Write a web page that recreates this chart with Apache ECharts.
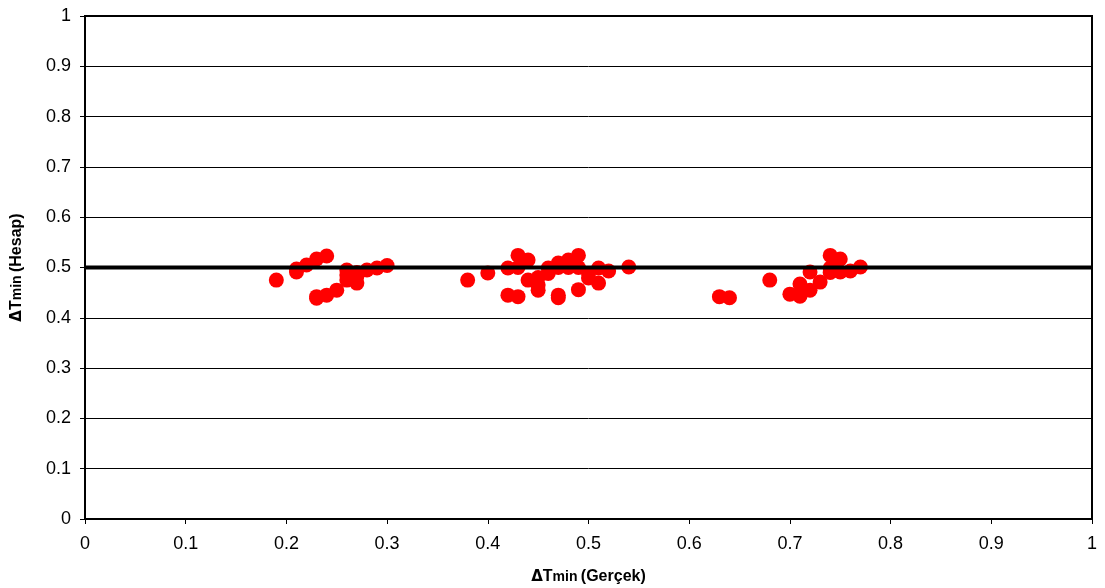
<!DOCTYPE html>
<html>
<head>
<meta charset="utf-8">
<script src="https://cdn.jsdelivr.net/npm/echarts@6/dist/echarts.min.js"></script>
<style>
  html, body { margin: 0; padding: 0; background: #fff; }
  #chart { width: 1105px; height: 588px; }
</style>
</head>
<body>
<div id="chart"></div>
<script>
// ΔTmin gerçek (x) ve hesap (y) değerleri
var gercek = [
  0.19, 0.21, 0.21, 0.22, 0.23, 0.23, 0.23, 0.24, 0.24, 0.25, 0.26, 0.26, 0.26,
  0.27, 0.27, 0.27, 0.28, 0.29, 0.30,
  0.38, 0.40, 0.42, 0.42, 0.43, 0.43, 0.43, 0.44, 0.44, 0.45, 0.45, 0.45, 0.46,
  0.46, 0.47, 0.47, 0.47, 0.47, 0.48, 0.48, 0.49, 0.49, 0.49, 0.50, 0.50, 0.51,
  0.51, 0.52, 0.54,
  0.63, 0.64, 0.68, 0.70, 0.71, 0.71, 0.72, 0.72, 0.73, 0.74, 0.74, 0.74, 0.75,
  0.75, 0.76, 0.77
];
var hesap = [
  0.475, 0.491, 0.497, 0.505, 0.517, 0.439, 0.442, 0.523, 0.445, 0.455, 0.495, 0.475, 0.485,
  0.482, 0.469, 0.490, 0.495, 0.499, 0.504,
  0.475, 0.489, 0.499, 0.445, 0.524, 0.442, 0.500, 0.515, 0.475, 0.455, 0.480, 0.465, 0.499,
  0.488, 0.509, 0.445, 0.440, 0.500, 0.515, 0.500, 0.524, 0.456, 0.500, 0.479, 0.488, 0.499,
  0.469, 0.493, 0.501,
  0.442, 0.440, 0.475, 0.447, 0.467, 0.443, 0.455, 0.491, 0.471, 0.524, 0.499, 0.490, 0.517,
  0.491, 0.493, 0.501
];
// y = 0.5 referans çizgisi
var refX = [0, 1];
var refY = [0.5, 0.5];

var points = gercek.map(function (x, i) { return [x, hesap[i]]; });
var refLine = refX.map(function (x, i) { return [x, refY[i]]; });

var titleRich = {
  d: { fontFamily: 'DejaVu Sans', fontWeight: 'bold', fontSize: 15, color: '#000' },
  t: { fontFamily: 'Liberation Sans', fontWeight: 'bold', fontSize: 16, color: '#000' },
  s: { fontFamily: 'Liberation Sans', fontWeight: 'bold', fontSize: 14, color: '#000' }
};

var chart = echarts.init(document.getElementById('chart'));
chart.setOption({
  animation: false,
  grid: {
    left: 85,
    right: 13,
    top: 16,
    bottom: 69,
    outerBoundsMode: 'none',
    containLabel: false,
    show: true,
    borderColor: '#000',
    borderWidth: 2
  },
  xAxis: {
    type: 'value',
    min: 0,
    max: 1,
    interval: 0.1,
    name: '{d|Δ}{t|T}{s|min} {t|(Gerçek)}',
    nameLocation: 'middle',
    nameGap: 50,
    nameTextStyle: { rich: titleRich },
    axisLine: { show: true, lineStyle: { color: '#000', width: 2 } },
    axisTick: { show: true, length: 5, lineStyle: { color: '#000', width: 1 } },
    axisLabel: {
      color: '#000',
      fontFamily: 'Liberation Sans',
      fontSize: 18,
      margin: 16
    },
    splitLine: { show: false }
  },
  yAxis: {
    type: 'value',
    min: 0,
    max: 1,
    interval: 0.1,
    name: '{d|Δ}{t|T}{s|min} {t|(Hesap)}',
    nameLocation: 'middle',
    nameGap: 60,
    nameRotate: 90,
    nameTextStyle: { rich: titleRich },
    axisLine: { show: true, lineStyle: { color: '#000', width: 2 } },
    axisTick: { show: true, length: 5, lineStyle: { color: '#000', width: 1 } },
    axisLabel: {
      color: '#000',
      fontFamily: 'Liberation Sans',
      fontSize: 18,
      margin: 14
    },
    splitLine: { show: true, lineStyle: { color: '#000', width: 1 } }
  },
  series: [
    {
      type: 'line',
      data: refLine,
      symbol: 'none',
      lineStyle: { color: '#000', width: 4 },
      z: 3
    },
    {
      type: 'scatter',
      data: points,
      symbol: 'circle',
      symbolSize: 15,
      itemStyle: { color: '#ff0000', opacity: 1 },
      z: 2
    }
  ]
});
</script>
</body>
</html>
